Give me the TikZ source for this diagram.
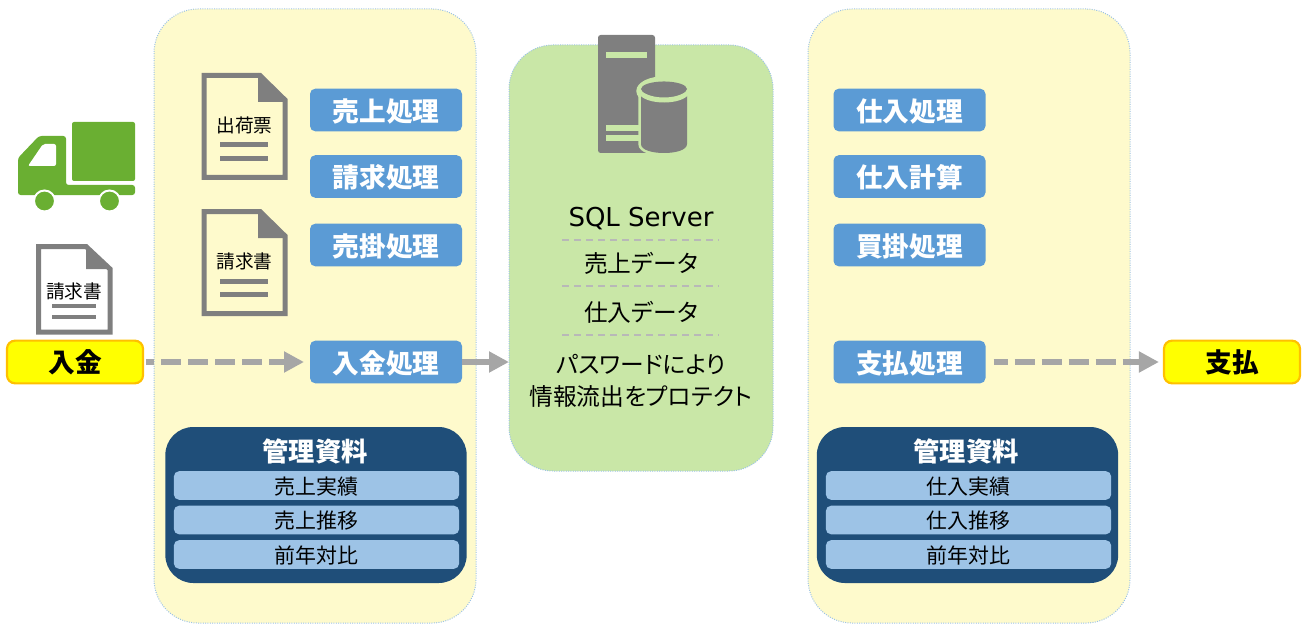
\documentclass[tikz,border=0pt]{standalone}
\usepackage{fontspec}
\setmainfont{Noto Sans CJK JP}
\newfontfamily\latinfont{DejaVu Sans}
\newfontfamily\palfont[RawFeature=+palt]{Noto Sans CJK JP}
\usetikzlibrary{arrows.meta}
\definecolor{panelyellow}{RGB}{254,250,204}
\definecolor{panelgreen}{RGB}{201,231,167}
\definecolor{paneledge}{RGB}{157,195,230}
\definecolor{stepblue}{RGB}{91,155,213}
\definecolor{listdark}{RGB}{31,78,121}
\definecolor{listlight}{RGB}{157,195,230}
\definecolor{iconGray}{RGB}{127,127,127}
\definecolor{arrowGray}{RGB}{166,166,166}
\definecolor{truckGreen}{RGB}{106,175,50}
\definecolor{eventYellow}{RGB}{255,255,0}
\definecolor{eventEdge}{RGB}{255,192,0}
\tikzset{every picture/.style={line width=0.75pt}}
\tikzset{
  panel/.style={draw=paneledge,line width=0.75pt,densely dotted,inner sep=0pt,outer sep=0pt,rounded corners=33pt},
  stepbox/.style={fill=stepblue,text=white,font=\fontsize{20}{22}\selectfont\bfseries,text height=16.7pt,text depth=0pt,minimum width=114pt,minimum height=32pt,inner sep=0pt,outer sep=0pt,rounded corners=4pt},
  eventbox/.style={draw=eventEdge,fill=eventYellow,line width=1.6pt,font=\fontsize{20}{24}\selectfont\bfseries,minimum width=102pt,minimum height=32pt,inner sep=0pt,outer sep=0.8pt,rounded corners=6pt},
  listpanel/.style={fill=listdark,minimum width=226pt,minimum height=117pt,inner sep=0pt,outer sep=0pt,rounded corners=21pt},
  listhead/.style={text=white,font=\fontsize{19.7}{22}\selectfont\bfseries,inner sep=0pt},
  listitem/.style={fill=listlight,font=\fontsize{15.7}{18}\selectfont,text height=13pt,text depth=0pt,minimum width=214pt,minimum height=21.5pt,inner sep=0pt,rounded corners=4pt},
  dbtext/.style={font=\palfont\fontsize{17.8}{20}\selectfont,inner sep=0pt},
  doctext/.style={font=\fontsize{14}{16}\selectfont,inner sep=0pt},
  docline/.style={draw=iconGray,line width=3.75pt,line join=miter},
  dashline/.style={draw=black!28,line width=1.2pt,dash pattern=on 5.2pt off 3.8pt},
  flowdash/.style={draw=arrowGray,line width=4.8pt,dash pattern=on 15pt off 5.25pt,-{Triangle[length=15pt,width=15pt,fill=arrowGray]}},
  flowsolid/.style={draw=arrowGray,line width=4.8pt,-{Triangle[length=15pt,width=15pt,fill=arrowGray]}}
}

\begin{document}
\begin{tikzpicture}[x=0.75pt,y=0.75pt,yscale=-1,xscale=1]
\useasboundingbox (0,0) rectangle (1313,624);

%Shape: Panels
\node (salesPanel) at (315,316) [panel,fill=panelyellow,minimum width=241.5pt,minimum height=460.5pt] {};
\node (dbPanel) at (641,258) [panel,fill=panelgreen,minimum width=198pt,minimum height=319.5pt] {};
\node (buyPanel) at (969,316) [panel,fill=panelyellow,minimum width=241.5pt,minimum height=460.5pt] {};

%Shape: Truck
\fill [truckGreen] [rounded corners=1.5pt] (72,122) -- (135,122) -- (135,181) -- (72,181) -- cycle ;
\fill [truckGreen] [rounded corners=2pt] (18,195) -- (18,158) -- (39,136) -- (66,136) -- (66,185) -- (135,185) -- (135,195) -- cycle ;
\fill [white] [rounded corners=1.5pt] (28,166) -- (43,144) -- (56,144) -- (56,166) -- cycle ;
\draw [white,fill=truckGreen,line width=1.5pt] (44.5,201) circle (10.5) ;
\draw [white,fill=truckGreen,line width=1.5pt] (109.5,201) circle (10.5) ;

%Shape: Slip left
\draw [iconGray,line width=3.75pt,line join=miter] (38.5,246.5) -- (86,246.5) -- (110,269) -- (110,332) -- (38.5,332) -- cycle ;
\fill [iconGray] (86,245) -- (112,269) -- (86,269) -- cycle ;
\draw [docline,line width=3pt] (52,305.5) -- (96,305.5) ;
\draw [docline,line width=3pt] (52,316.5) -- (96,316.5) ;
\node (slipPay) at (74,291) [doctext] {請求書};

%Shape: Slip upper
\draw [iconGray,line width=3.75pt,line join=miter] (204,75.5) -- (260,75.5) -- (285,100) -- (285,177.5) -- (204,177.5) -- cycle ;
\fill [iconGray] (258,73) -- (287,102) -- (258,102) -- cycle ;
\draw [docline] (220,145) -- (268,145) ;
\draw [docline] (220,158.5) -- (268,158.5) ;
\node (slipShip) at (244.5,125) [doctext] {出荷票};

%Shape: Slip lower
\draw [iconGray,line width=3.75pt,line join=miter] (204,211.5) -- (260,211.5) -- (285,236) -- (285,313.5) -- (204,313.5) -- cycle ;
\fill [iconGray] (258,209) -- (287,238) -- (258,238) -- cycle ;
\draw [docline] (220,281) -- (268,281) ;
\draw [docline] (220,294.5) -- (268,294.5) ;
\node (slipBill) at (244.5,261) [doctext] {請求書};

%Shape: Server
\fill [iconGray] [rounded corners=2pt] (598,153) -- (598,35) -- (655,35) -- (655,153) -- cycle ;
\fill [panelgreen] (606,52) rectangle (647,58) ;
\fill [panelgreen] (606,125) rectangle (640,131) ;
\fill [panelgreen] (606,135) rectangle (640,141) ;
%Shape: Can
\draw [panelgreen,fill=iconGray,line width=4pt] (641,91) -- (641,144) .. controls (641,150) and (652,153) .. (664,153) .. controls (676,153) and (687,150) .. (687,144) -- (687,91) -- cycle ;
\draw [panelgreen,fill=iconGray,line width=4pt] (664,91) ellipse (25 and 12) ;
\fill [iconGray] (641,94) -- (641,144) .. controls (641,150) and (652,153) .. (664,153) .. controls (676,153) and (687,150) .. (687,144) -- (687,94) .. controls (680,104) and (648,104) .. (641,94) -- cycle ;
\draw [panelgreen,line width=3.75pt] (640,91) .. controls (645,103) and (683,103) .. (688,91) ;
\fill [iconGray] (664,89) ellipse (23 and 7.5) ;

%Text: database
\node (dbName) at (641,219) [dbtext,font=\latinfont\fontsize{19.5}{20}\selectfont] {SQL Server};
\node (dbSales) at (641,263) [dbtext] {売上データ};
\node (dbBuy) at (641,312) [dbtext] {仕入データ};
\node (dbNoteA) at (641,364) [dbtext] {パスワードにより};
\node (dbNoteB) at (641,397) [dbtext] {情報流出をプロテクト};
%Straight Lines
\draw [dashline] (562,240) -- (719,240) ;
\draw [dashline] (562,286) -- (719,286) ;
\draw [dashline] (562,335) -- (719,335) ;

%Sales steps
\node (salesEntry) at (386,110) [stepbox] {売上処理};
\node (salesBill) at (386,176.5) [stepbox] {請求処理};
\node (salesDebt) at (386,245) [stepbox] {売掛処理};
\node (salesCash) at (386,362) [stepbox] {入金処理};
%Purchase steps
\node (buyEntry) at (909.5,110) [stepbox] {仕入処理};
\node (buyCalc) at (909.5,176.5) [stepbox] {仕入計算};
\node (buyDebt) at (909.5,245) [stepbox] {買掛処理};
\node (buyPay) at (909.5,362) [stepbox] {支払処理};

%Events
\node (eventIn) at (75,362) [eventbox] {入金};
\node (eventOut) at (1232,362) [eventbox] {支払};

%Reports sales
\node (salesList) at (316,505) [listpanel] {};
\node (salesHead) at (315,451) [listhead] {管理資料};
\node (salesItemA) at (316.5,485.5) [listitem] {売上実績};
\node (salesItemB) at (316.5,520) [listitem] {売上推移};
\node (salesItemC) at (316.5,554.5) [listitem] {前年対比};
%Reports purchase
\node (buyList) at (967.5,505) [listpanel] {};
\node (buyHead) at (966,451) [listhead] {管理資料};
\node (buyItemA) at (968.5,485.5) [listitem] {仕入実績};
\node (buyItemB) at (968.5,520) [listitem] {仕入推移};
\node (buyItemC) at (968.5,554.5) [listitem] {前年対比};

%Straight Lines
\draw [flowdash,dash phase=9pt,shorten <=1.5pt,shorten >=4.5pt] (eventIn.east) -- (salesCash.west) ;
\draw [flowsolid] (salesCash.east) -- (salesCash.east -| dbPanel.west) ;
\draw [flowdash,dash phase=4.5pt,shorten <=6pt,shorten >=3pt] (buyPay.east) -- (eventOut.west) ;

\end{tikzpicture}
\end{document}
